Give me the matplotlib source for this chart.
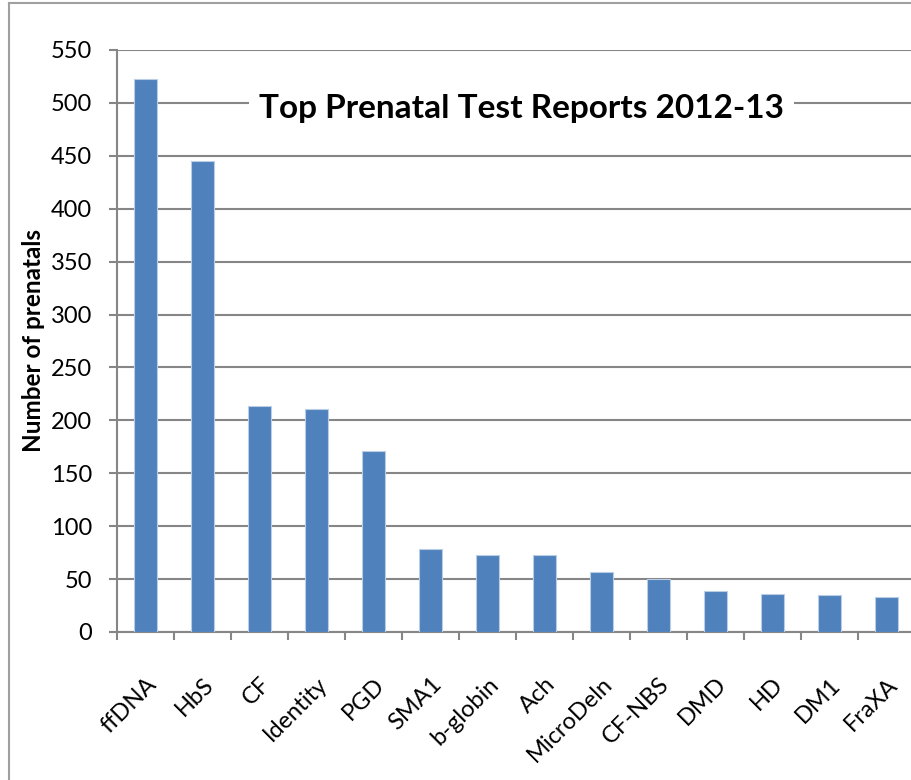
import matplotlib.pyplot as plt
from matplotlib.lines import Line2D

plt.rcParams['font.family'] = ['Lato', 'DejaVu Sans']

tests = ['ffDNA', 'HbS', 'CF', 'Identity', 'PGD', 'SMA1', 'b-globin', 'Ach',
         'MicroDeln', 'CF-NBS', 'DMD', 'HD', 'DM1', 'FraXA']
counts = [523, 445, 214, 211, 171, 78, 73, 73, 57, 50, 39, 36, 35, 33]
yticks = list(range(0, 551, 50))

fig = plt.figure(figsize=(9.12, 7.8), dpi=100)
ax = fig.add_axes([117 / 912, 1 - 632 / 780, 798 / 912, 582 / 780])

x = range(len(tests))
ax.bar(x, counts, width=0.4, color='#4F81BD', edgecolor='#B9CDE5', linewidth=0.8, zorder=3)

ax.set_xlim(-0.5, len(tests) - 0.5)
ax.set_ylim(0, 550)
ax.set_yticks(yticks)
ax.set_yticklabels([str(v) for v in yticks], fontsize=17)
ax.set_xticks(x)
ax.set_xticklabels(tests, rotation=45, ha='right', rotation_mode='anchor', fontsize=17)
ax.tick_params(axis='x', length=0, pad=30)
ax.tick_params(axis='y', length=6, width=1.5, color='#868686', pad=12)

# category boundary ticks
ax.set_xticks([i - 0.5 for i in range(len(tests) + 1)], minor=True)
ax.tick_params(axis='x', which='minor', length=6, width=1.5, color='#868686')

ax.yaxis.grid(True, color='#868686', linewidth=1.5, zorder=0)
ax.set_axisbelow(True)
for s in ['top', 'right']:
    ax.spines[s].set_visible(False)
for s in ['left', 'bottom']:
    ax.spines[s].set_color('#868686')
    ax.spines[s].set_linewidth(1.5)

ax.set_ylabel('Number of prenatals', fontsize=17.5, fontweight='bold', labelpad=4)

ax.text(0.507, 0.9, 'Top Prenatal Test Reports 2012-13', transform=ax.transAxes,
        ha='center', va='center', fontsize=24, fontweight='bold', zorder=5,
        bbox=dict(facecolor='white', edgecolor='none', pad=7))

# outer chart border (cropped on right/bottom)
fig.add_artist(Line2D([9 / 912, 9 / 912], [0, 1 - 3 / 780], color='#A0A0A0', linewidth=1.5))
fig.add_artist(Line2D([9 / 912, 1], [1 - 3 / 780, 1 - 3 / 780], color='#A0A0A0', linewidth=1.5))

fig.savefig('out.png', dpi=100)
